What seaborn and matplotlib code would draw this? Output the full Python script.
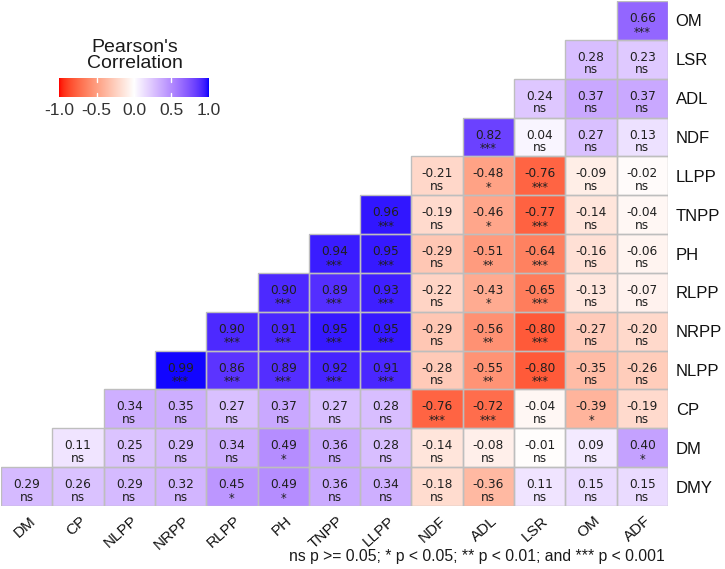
import numpy as np
import pandas as pd
import matplotlib
matplotlib.use("Agg")
import matplotlib.pyplot as plt
import matplotlib.transforms as mtransforms
import seaborn as sns
from matplotlib.colors import ListedColormap
from matplotlib.patches import Rectangle

# ---------------- data ----------------
col_labels = ["DM", "CP", "NLPP", "NRPP", "RLPP", "PH", "TNPP", "LLPP",
              "NDF", "ADL", "LSR", "OM", "ADF"]
row_labels = ["OM", "LSR", "ADL", "NDF", "LLPP", "TNPP", "PH", "RLPP",
              "NRPP", "NLPP", "CP", "DM", "DMY"]

# each row lists values from its first filled column to ADF
r_OM = [0.66]
s_OM = ["***"]
r_LSR = [0.28, 0.23]
s_LSR = ["ns", "ns"]
r_ADL = [0.24, 0.37, 0.37]
s_ADL = ["ns", "ns", "ns"]
r_NDF = [0.82, 0.04, 0.27, 0.13]
s_NDF = ["***", "ns", "ns", "ns"]
r_LLPP = [-0.21, -0.48, -0.76, -0.09, -0.02]
s_LLPP = ["ns", "*", "***", "ns", "ns"]
r_TNPP = [0.96, -0.19, -0.46, -0.77, -0.14, -0.04]
s_TNPP = ["***", "ns", "*", "***", "ns", "ns"]
r_PH = [0.94, 0.95, -0.29, -0.51, -0.64, -0.16, -0.06]
s_PH = ["***", "***", "ns", "**", "***", "ns", "ns"]
r_RLPP = [0.90, 0.89, 0.93, -0.22, -0.43, -0.65, -0.13, -0.07]
s_RLPP = ["***", "***", "***", "ns", "*", "***", "ns", "ns"]
r_NRPP = [0.90, 0.91, 0.95, 0.95, -0.29, -0.56, -0.80, -0.27, -0.20]
s_NRPP = ["***", "***", "***", "***", "ns", "**", "***", "ns", "ns"]
r_NLPP = [0.99, 0.86, 0.89, 0.92, 0.91, -0.28, -0.55, -0.80, -0.35, -0.26]
s_NLPP = ["***", "***", "***", "***", "***", "ns", "**", "***", "ns", "ns"]
r_CP = [0.34, 0.35, 0.27, 0.37, 0.27, 0.28, -0.76, -0.72, -0.04, -0.39, -0.19]
s_CP = ["ns", "ns", "ns", "ns", "ns", "ns", "***", "***", "ns", "*", "ns"]
r_DM = [0.11, 0.25, 0.29, 0.34, 0.49, 0.36, 0.28, -0.14, -0.08, -0.01, 0.09, 0.40]
s_DM = ["ns", "ns", "ns", "ns", "*", "ns", "ns", "ns", "ns", "ns", "ns", "*"]
r_DMY = [0.29, 0.26, 0.29, 0.32, 0.45, 0.49, 0.36, 0.34, -0.18, -0.36, 0.11, 0.15, 0.15]
s_DMY = ["ns", "ns", "ns", "ns", "*", "*", "ns", "ns", "ns", "ns", "ns", "ns", "ns"]

r_rows = [r_OM, r_LSR, r_ADL, r_NDF, r_LLPP, r_TNPP, r_PH, r_RLPP,
          r_NRPP, r_NLPP, r_CP, r_DM, r_DMY]
s_rows = [s_OM, s_LSR, s_ADL, s_NDF, s_LLPP, s_TNPP, s_PH, s_RLPP,
          s_NRPP, s_NLPP, s_CP, s_DM, s_DMY]

ncol = len(col_labels)
nrow = len(row_labels)
mat = np.full((nrow, ncol), np.nan)
sig = np.full((nrow, ncol), "", dtype=object)
for i, (rv, sv) in enumerate(zip(r_rows, s_rows)):
    start = ncol - len(rv)
    mat[i, start:] = rv
    sig[i, start:] = sv
df = pd.DataFrame(mat, index=row_labels, columns=col_labels)

# ---------------- colormap: red-white-blue interpolated in CIELAB ----------------
def srgb_to_lab(rgb):
    rgb = np.asarray(rgb, float)
    lin = np.where(rgb <= 0.04045, rgb / 12.92, ((rgb + 0.055) / 1.055) ** 2.4)
    M = np.array([[0.4124564, 0.3575761, 0.1804375],
                  [0.2126729, 0.7151522, 0.0721750],
                  [0.0193339, 0.1191920, 0.9503041]])
    xyz = M @ lin
    wp = np.array([0.95047, 1.0, 1.08883])
    t = xyz / wp
    f = np.where(t > (6 / 29) ** 3, np.cbrt(t), t / (3 * (6 / 29) ** 2) + 4 / 29)
    return np.array([116 * f[1] - 16, 500 * (f[0] - f[1]), 200 * (f[1] - f[2])])

def lab_to_srgb(lab):
    L, a, b = lab
    fy = (L + 16) / 116
    fx = fy + a / 500
    fz = fy - b / 200
    def finv(t):
        return t ** 3 if t > 6 / 29 else 3 * (6 / 29) ** 2 * (t - 4 / 29)
    wp = np.array([0.95047, 1.0, 1.08883])
    xyz = np.array([finv(fx), finv(fy), finv(fz)]) * wp
    Minv = np.array([[3.2404542, -1.5371385, -0.4985314],
                     [-0.9692660, 1.8760108, 0.0415560],
                     [0.0556434, -0.2040259, 1.0572252]])
    lin = np.clip(Minv @ xyz, 0, 1)
    rgb = np.where(lin <= 0.0031308, 12.92 * lin, 1.055 * lin ** (1 / 2.4) - 0.055)
    return np.clip(rgb, 0, 1)

lab_red = srgb_to_lab([1, 0, 0])
lab_white = srgb_to_lab([1, 1, 1])
lab_blue = srgb_to_lab([0, 0, 1])
cols = []
for v in np.linspace(-1, 1, 256):
    if v < 0:
        lab = lab_white + (lab_red - lab_white) * (-v)
    else:
        lab = lab_white + (lab_blue - lab_white) * v
    cols.append(lab_to_srgb(lab))
cmap = ListedColormap(cols)

# ---------------- plot ----------------
sns.set_theme(style="white")
plt.rcParams["font.family"] = ["Liberation Sans", "DejaVu Sans"]

W, H = 725, 569
fig = plt.figure(figsize=(W / 100, H / 100), dpi=100)
ax = fig.add_axes([1 / W, 1 - 506 / H, (668 - 1) / W, (506 - 1) / H])

sns.heatmap(df, ax=ax, cmap=cmap, vmin=-1, vmax=1, cbar=False,
            linewidths=0, square=False)

TXT = "#1f1f1f"
CELLFONT = ["DejaVu Sans"]
for i in range(nrow):
    for j in range(ncol):
        if np.isnan(mat[i, j]):
            continue
        ax.add_patch(Rectangle((j, i), 1, 1, facecolor="none",
                               edgecolor="#BEBEBE", lw=1.0, zorder=3))
        ax.text(j + 0.5, i + 0.45, f"{mat[i, j]:.2f}", ha="center", va="center",
                fontsize=8.7, color=TXT, family=CELLFONT, zorder=4)
        if sig[i, j] == "ns":
            ax.text(j + 0.5, i + 0.77, "ns", ha="center", va="center",
                    fontsize=8.7, color=TXT, family=CELLFONT, zorder=4)
        else:
            ax.text(j + 0.5, i + 0.80, sig[i, j], ha="center", va="center",
                    fontsize=8.3, color=TXT, family=CELLFONT, zorder=4)

ax.yaxis.tick_right()
ax.set_yticks(np.arange(nrow) + 0.5)
ax.set_yticklabels(row_labels, rotation=0, ha="left", fontsize=12, color="#111111")
ax.set_xticks(np.arange(ncol) + 0.5)
ax.set_xticklabels(col_labels, rotation=42, ha="right", va="top",
                   rotation_mode="anchor", fontsize=11, color="#111111")
ax.tick_params(axis="y", length=0, pad=5.5)
ax.tick_params(axis="x", length=0, pad=5.5)
shift = mtransforms.ScaledTranslation(2 / 100, 0, fig.dpi_scale_trans)
for lab in ax.get_xticklabels():
    lab.set_transform(lab.get_transform() + shift)
ax.set_xlabel("")
ax.set_ylabel("")
for sp in ax.spines.values():
    sp.set_visible(False)

fig.text(665 / W, 1 - 556 / H,
         "ns p >= 0.05; * p < 0.05; ** p < 0.01; and *** p < 0.001",
         ha="right", va="center", fontsize=11.3, color="#1a1a1a")

# colorbar legend
cax = fig.add_axes([58 / W, 1 - 97 / H, 152 / W, 19 / H])
grad = np.linspace(-1, 1, 256)[None, :]
cax.imshow(grad, aspect="auto", cmap=cmap, vmin=-1, vmax=1,
           extent=[-1, 1, 0, 1])
for tv in [-0.5, 0.0, 0.5]:
    cax.plot([tv, tv], [0, 0.2], color="white", lw=1)
    cax.plot([tv, tv], [0.8, 1], color="white", lw=1)
cax.set_xlim(-1.02, 1.02)
cax.set_ylim(0, 1)
cax.set_yticks([])
cax.set_xticks([-1, -0.5, 0, 0.5, 1])
cax.set_xticklabels(["-1.0", "-0.5", "0.0", "0.5", "1.0"], fontsize=12.5, color="#333333")
cax.tick_params(axis="x", length=0, pad=4)
for sp in cax.spines.values():
    sp.set_visible(False)
fig.text(135 / W, 1 - 47 / H, "Pearson's", ha="center", va="center",
         fontsize=14, color="#1a1a1a")
fig.text(135 / W, 1 - 63 / H, "Correlation", ha="center", va="center",
         fontsize=14, color="#1a1a1a")

fig.savefig("out.png", dpi=100)
